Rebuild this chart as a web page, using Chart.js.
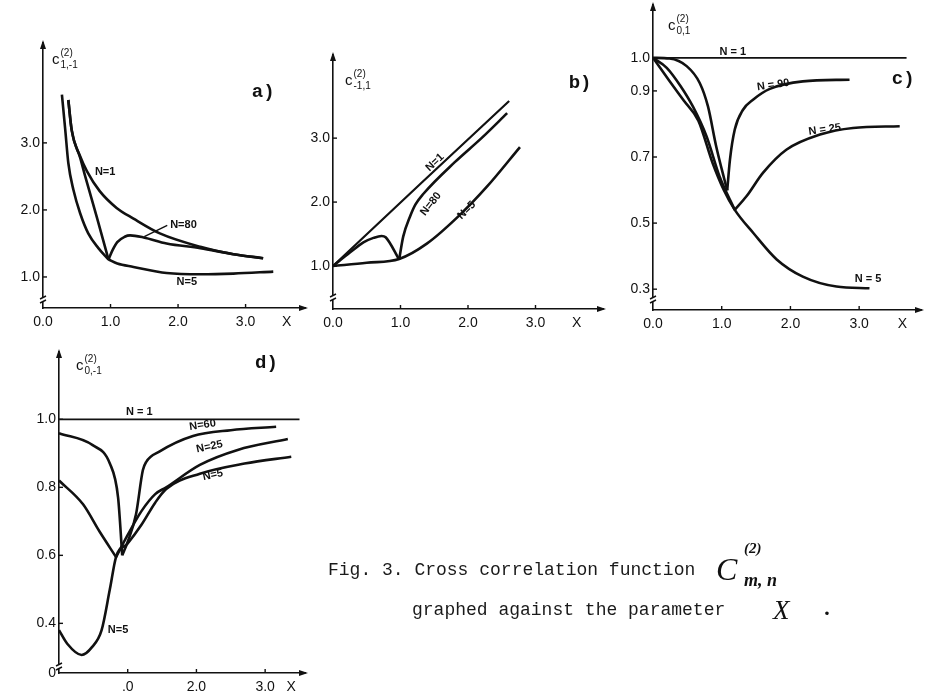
<!DOCTYPE html>
<html><head><meta charset="utf-8">
<script src="https://cdn.jsdelivr.net/npm/chart.js@4.4.0/dist/chart.umd.min.js"></script>
<style>
html,body{margin:0;padding:0;background:#fff;width:937px;height:696px;overflow:hidden;position:relative}
canvas.p{position:absolute;left:-40px;top:-40px}
.cap{position:absolute;font-family:"Liberation Mono",monospace;font-size:18px;line-height:18px;color:#1a1a1a;white-space:pre}
.scr{position:absolute;font-family:"Liberation Serif",serif;font-style:italic;font-weight:bold;color:#111;line-height:1}
</style></head><body>
<canvas id="ca" class="p" width="1017" height="776"></canvas>
<canvas id="cb" class="p" width="1017" height="776"></canvas>
<canvas id="cc" class="p" width="1017" height="776"></canvas>
<canvas id="cd" class="p" width="1017" height="776"></canvas>
<div class="cap" style="left:328px;top:561px">Fig. 3. Cross correlation function</div>
<div class="cap" style="left:412px;top:601px">graphed against the parameter</div>
<div class="scr" style="left:716px;top:553px;font-size:32px;font-weight:normal">C</div>
<div class="scr" style="left:744px;top:541px;font-size:15px">(2)</div>
<div class="scr" style="left:744px;top:571px;font-size:18px">m, n</div>
<div class="scr" style="left:773px;top:597px;font-size:27px;font-weight:normal">X</div>
<div class="scr" style="left:825px;top:597px;font-size:22px">.</div>
<script>
// ---------- data ----------
const aXTicks = [0, 1, 2, 3], aXLabels = ['0.0', '1.0', '2.0', '3.0'];
const aYTicks = [1, 2, 3], aYLabels = ['1.0', '2.0', '3.0'];
const aN1 = [[0.375,3.64],[0.425,3.19],[0.55,2.80],[0.65,2.58],[0.84,2.28],[1.09,2.03],[1.34,1.87],[1.73,1.65],[2.33,1.45],[2.82,1.34],[3.26,1.28]];
const aN80L = [[0.375,3.64],[0.425,3.19],[0.55,2.78],[0.62,2.52],[0.80,1.88],[0.97,1.26]];
const aN80R = [[0.97,1.26],[1.03,1.40],[1.10,1.52],[1.21,1.60],[1.29,1.62],[1.49,1.59],[1.83,1.50],[2.33,1.43],[2.82,1.34],[3.26,1.28]];
const aN5L = [[0.28,3.72],[0.33,3.19],[0.375,2.70],[0.45,2.30],[0.55,1.95],[0.67,1.65],[0.82,1.43],[0.97,1.26]];
const aN5R = [[0.97,1.26],[1.10,1.20],[1.34,1.15],[1.83,1.06],[2.33,1.04],[2.82,1.05],[3.41,1.08]];

const bXTicks = [0, 1, 2, 3], bXLabels = ['0.0', '1.0', '2.0', '3.0'];
const bYTicks = [1, 2, 3], bYLabels = ['1.0', '2.0', '3.0'];
const bN1 = [[0,1.0],[1.3,2.29],[2.61,3.58]];
const bN80L = [[0,1.0],[0.25,1.21],[0.45,1.37],[0.60,1.44],[0.72,1.47],[0.78,1.45],[0.98,1.10]];
const bN80R = [[0.98,1.10],[1.04,1.46],[1.14,1.77],[1.22,1.96],[1.34,2.13],[1.80,2.62],[2.20,3.00],[2.58,3.39]];
const bN5 = [[0,1.0],[0.5,1.05],[0.98,1.11],[1.39,1.35],[1.88,1.80],[2.28,2.24],[2.77,2.86]];

const cXTicks = [0, 1, 2, 3], cXLabels = ['0.0', '1.0', '2.0', '3.0'];
const cYTicks = [0.3, 0.5, 0.7, 0.9, 1.0], cYLabels = ['0.3', '0.5', '0.7', '0.9', '1.0'];
const cN1 = [[0,1.0],[3.69,1.0]];
const cN90L = [[0,1.0],[0.24,0.998],[0.49,0.975],[0.68,0.924],[0.80,0.853],[0.92,0.732],[1.04,0.631],[1.08,0.599]];
const cN90R = [[1.08,0.599],[1.12,0.692],[1.19,0.783],[1.31,0.843],[1.46,0.874],[1.70,0.906],[2.18,0.929],[2.86,0.934]];
const cN25L = [[0,1.0],[0.2,0.97],[0.4,0.915],[0.58,0.853],[0.78,0.762],[0.97,0.64],[1.19,0.54]];
const cN25R = [[1.19,0.54],[1.36,0.581],[1.60,0.652],[1.94,0.722],[2.43,0.768],[2.91,0.788],[3.59,0.793]];
const cN5 = [[0,1.0],[0.24,0.93],[0.45,0.87],[0.66,0.81],[0.87,0.68],[1.03,0.60],[1.19,0.54],[1.46,0.47],[1.80,0.39],[2.18,0.338],[2.67,0.308],[3.15,0.303]];

const dXTicks = [1, 2, 3], dXLabels = ['.0', '2.0', '3.0'];
const dYTicks = [0.254, 0.4, 0.6, 0.8, 1.0], dYLabels = ['0', '0.4', '0.6', '0.8', '1.0'];
const dN1 = [[0,1.0],[3.5,1.0]];
const dN60L = [[0,0.959],[0.49,0.924],[0.74,0.87],[0.86,0.77],[0.92,0.60]];
const dN60R = [[0.92,0.60],[1.0,0.64],[1.12,0.72],[1.22,0.85],[1.27,0.875],[1.46,0.905],[1.95,0.951],[2.5,0.968],[3.16,0.978]];
const dN25L = [[0,0.82],[0.35,0.75],[0.59,0.67],[0.83,0.595]];
const dN25R = [[0.83,0.595],[1.0,0.66],[1.2,0.73],[1.4,0.78],[1.56,0.80],[2.05,0.866],[2.6,0.91],[3.33,0.942]];
const dN5 = [[0,0.38],[0.12,0.34],[0.33,0.307],[0.48,0.33],[0.62,0.38],[0.74,0.50],[0.83,0.595],[1.0,0.635],[1.2,0.69],[1.4,0.755],[1.56,0.795],[2.05,0.84],[2.7,0.87],[3.38,0.89]];

// ---------- drawing ----------
const W = 937, H = 696, OFF = 40, YW = 40, XH = 30;
const INK = '#111';

function decoPlugin(d) {
  return { id: 'deco', afterDraw(chart) {
    const ctx = chart.ctx, xs = chart.scales.x, ys = chart.scales.y, ca = chart.chartArea;
    ctx.save();
    ctx.strokeStyle = INK; ctx.fillStyle = INK; ctx.lineWidth = 1.4;
    const seg = (x1, y1, x2, y2) => { ctx.beginPath(); ctx.moveTo(x1, y1); ctx.lineTo(x2, y2); ctx.stroke(); };
    d.xt.forEach(v => { if (v > 0.01) { const p = xs.getPixelForValue(v); seg(p, ca.bottom, p, ca.bottom - 4); } });
    d.yt.forEach(v => { const p = ys.getPixelForValue(v); if (p < ca.bottom - 3) seg(ca.left, p, ca.left + 4, p); });
    // arrows
    ctx.beginPath(); ctx.moveTo(ca.left, ca.top - 3); ctx.lineTo(ca.left - 3, ca.top + 6); ctx.lineTo(ca.left + 3, ca.top + 6); ctx.closePath(); ctx.fill();
    ctx.beginPath(); ctx.moveTo(ca.right + 3, ca.bottom); ctx.lineTo(ca.right - 6, ca.bottom - 3); ctx.lineTo(ca.right - 6, ca.bottom + 3); ctx.closePath(); ctx.fill();
    // axis break
    const by = ca.bottom - d.brk;
    ctx.fillStyle = '#fff'; ctx.fillRect(ca.left - 2, by - 3, 4, 5); ctx.fillStyle = INK;
    seg(ca.left - 3, by - 1, ca.left + 3, by - 4);
    seg(ca.left - 3, by + 3, ca.left + 3, by);
    // leader lines
    (d.lines || []).forEach(l => seg(xs.getPixelForValue(l[0]), ys.getPixelForValue(l[1]), xs.getPixelForValue(l[2]), ys.getPixelForValue(l[3])));
    // curve labels
    ctx.textAlign = 'center'; ctx.textBaseline = 'middle';
    d.labels.forEach(l => {
      ctx.save();
      ctx.translate(xs.getPixelForValue(l.x), ys.getPixelForValue(l.y));
      ctx.rotate((l.r || 0) * Math.PI / 180);
      ctx.font = 'bold 11px "Liberation Sans"';
      ctx.fillText(l.t, 0, 0);
      ctx.restore();
    });
    // panel letter
    ctx.font = 'bold 19px "Liberation Mono"';
    ctx.fillText(d.letter.t, xs.getPixelForValue(d.letter.x), ys.getPixelForValue(d.letter.y));
    // X label
    ctx.font = '14px "Liberation Sans"';
    ctx.fillText('X', xs.getPixelForValue(d.xX), ca.bottom + 14);
    // axis title c^(2)_{m,n}
    const tx = ca.left + d.title.dx, ty = ca.top + d.title.dy;
    ctx.textAlign = 'left';
    ctx.font = '15px "Liberation Sans"';
    ctx.fillText('c', tx, ty);
    const cw = ctx.measureText('c').width;
    ctx.font = '10px "Liberation Sans"';
    ctx.fillText('(2)', tx + cw + 1, ty - 7);
    ctx.fillText(d.title.sub, tx + cw + 1, ty + 5);
    ctx.restore();
  }};
}

function panel(id, box, xr, yr, xt, xl, yt, yl, series, deco) {
  const datasets = series.map(s => ({
    data: s.pts.map(p => ({ x: p[0], y: p[1] })),
    borderColor: INK, borderWidth: s.w, pointRadius: 0, fill: false,
    cubicInterpolationMode: 'monotone', clip: false
  }));
  const tickFont = { family: 'Liberation Sans', size: 14 };
  deco.xt = xt; deco.yt = yt;
  new Chart(document.getElementById(id), {
    type: 'line',
    data: { datasets },
    options: {
      responsive: false, animation: false, devicePixelRatio: 1,
      layout: { padding: { left: box.L + OFF - YW, right: W + OFF - box.R, top: box.T + OFF, bottom: H + OFF - box.B - XH } },
      plugins: { legend: { display: false }, tooltip: { enabled: false }, title: { display: false } },
      scales: {
        x: {
          type: 'linear', min: xr[0], max: xr[1],
          afterFit: s => { s.height = XH; },
          afterBuildTicks: s => { s.ticks = xt.map(v => ({ value: v })); },
          grid: { display: false, drawTicks: false },
          border: { display: true, color: INK, width: 1.6 },
          ticks: { padding: 6, color: INK, font: tickFont, autoSkip: false, maxRotation: 0, callback: (v, i) => xl[i] }
        },
        y: {
          type: 'linear', min: yr[0], max: yr[1],
          afterFit: s => { s.width = YW; },
          afterBuildTicks: s => { s.ticks = yt.map(v => ({ value: v })); },
          grid: { display: false, drawTicks: false },
          border: { display: true, color: INK, width: 1.6 },
          ticks: { padding: 3, color: INK, font: tickFont, autoSkip: false, callback: (v, i) => yl[i] }
        }
      }
    },
    plugins: [decoPlugin(deco)]
  });
}

panel('ca', { L: 43, R: 305, T: 43, B: 308 }, [0, 3.88], [0.537, 4.49], aXTicks, aXLabels, aYTicks, aYLabels,
  [{ pts: aN1, w: 2.6 }, { pts: aN80L, w: 2.6 }, { pts: aN80R, w: 2.6 }, { pts: aN5L, w: 2.6 }, { pts: aN5R, w: 2.6 }],
  { brk: 8, xX: 3.61, letter: { t: 'a)', x: 3.26, y: 3.76 }, title: { dx: 9, dy: 17, sub: '1,-1' },
    lines: [[1.5, 1.6, 1.84, 1.77]],
    labels: [{ t: 'N=1', x: 0.92, y: 2.57 }, { t: 'N=80', x: 2.08, y: 1.78 }, { t: 'N=5', x: 2.13, y: 0.93 }] });

panel('cb', { L: 333, R: 603, T: 55, B: 309 }, [0, 4.0], [0.328, 4.30], bXTicks, bXLabels, bYTicks, bYLabels,
  [{ pts: bN1, w: 2.2 }, { pts: bN80L, w: 2.6 }, { pts: bN80R, w: 2.6 }, { pts: bN5, w: 2.6 }],
  { brk: 11, xX: 3.61, letter: { t: 'b)', x: 3.66, y: 3.86 }, title: { dx: 12, dy: 26, sub: '-1,1' },
    labels: [{ t: 'N=1', x: 1.51, y: 2.62, r: -43 }, { t: 'N=80', x: 1.45, y: 1.97, r: -52 }, { t: 'N=5', x: 1.98, y: 1.87, r: -45 }] });

panel('cc', { L: 653, R: 921, T: 5, B: 310 }, [0, 3.90], [0.237, 1.16], cXTicks, cXLabels, cYTicks, cYLabels,
  [{ pts: cN1, w: 1.6 }, { pts: cN90L, w: 2.6 }, { pts: cN90R, w: 2.6 }, { pts: cN25L, w: 2.6 }, { pts: cN25R, w: 2.6 }, { pts: cN5, w: 2.6 }],
  { brk: 10, xX: 3.63, letter: { t: 'c)', x: 3.64, y: 0.934 }, title: { dx: 15, dy: 21, sub: '0,1' },
    labels: [{ t: 'N = 1', x: 1.16, y: 1.019 }, { t: 'N = 90', x: 1.75, y: 0.918, r: -8 }, { t: 'N = 25', x: 2.50, y: 0.783, r: -8 }, { t: 'N = 5', x: 3.13, y: 0.33 }] });

panel('cd', { L: 59, R: 305, T: 352, B: 673 }, [0, 3.58], [0.254, 1.198], dXTicks, dXLabels, dYTicks, dYLabels,
  [{ pts: dN1, w: 1.6 }, { pts: dN60L, w: 2.6 }, { pts: dN60R, w: 2.6 }, { pts: dN25L, w: 2.6 }, { pts: dN25R, w: 2.6 }, { pts: dN5, w: 2.6 }],
  { brk: 6, xX: 3.38, letter: { t: 'd)', x: 3.02, y: 1.166 }, title: { dx: 17, dy: 14, sub: '0,-1' },
    labels: [{ t: 'N = 1', x: 1.17, y: 1.022 }, { t: 'N=60', x: 2.09, y: 0.983, r: -8 }, { t: 'N=25', x: 2.19, y: 0.919, r: -12 }, { t: 'N=5', x: 2.24, y: 0.836, r: -12 }, { t: 'N=5', x: 0.86, y: 0.382 }] });
</script>
</body></html>
